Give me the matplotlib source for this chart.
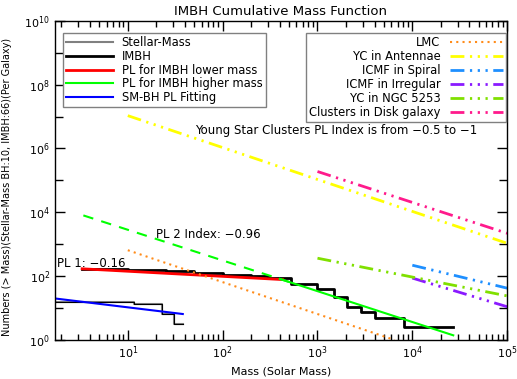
import numpy as np
import matplotlib.pyplot as plt
from matplotlib.ticker import LogLocator, NullFormatter, FixedLocator

# step functions (cumulative counts)
stellar_mass = [1.7, 11.5, 23, 31, 38]
stellar_n = [16, 13, 6.5, 3.2, 3.2]

imbh_mass = [3.3, 10, 25, 50, 100, 200, 300, 520, 1000, 1480, 2050, 2900, 4000, 8100, 27000]
imbh_n = [165, 155, 140, 125, 110, 100, 88, 56, 39, 22, 10.7, 7.5, 4.9, 2.6, 2.6]

# power-law fits (end points)
pl1_mass = [3.3, 430]
pl1_n = [170, 78]
pl2_dash_mass = [3.4, 500]
pl2_dash_n = [8000, 66]
pl2_mass = [400, 27000]
pl2_n = [82, 1.4]
smbh_mass = [1.7, 38]
smbh_n = [20, 6.5]

# young star cluster mass functions (end points)
lmc_mass = [10, 6500]
lmc_n = [650, 1.0]
antennae_mass = [10, 1e5]
antennae_n = [1.07e7, 1070]
spiral_mass = [1e4, 1e5]
spiral_n = [220, 42]
irregular_mass = [1e4, 1e5]
irregular_n = [87, 11]
ngc5253_mass = [1e3, 1e5]
ngc5253_n = [365, 24]
disk_mass = [1e3, 1e5]
disk_n = [1.9e5, 2200]

x_ticks = [1e1, 1e2, 1e3, 1e4, 1e5]
y_ticks = [1e0, 1e2, 1e4, 1e6, 1e8, 1e10]
y_minor = [1e1, 1e3, 1e5, 1e7, 1e9]

dddash = (0, (5, 2, 0.8, 2, 0.8, 2, 0.8, 2))

fig = plt.figure(figsize=(5.17, 3.79), dpi=100)
ax = fig.add_axes([0.106, 0.103, 0.875, 0.842])

l_sm, = ax.step(stellar_mass, stellar_n, where='post', color='gray', lw=1.5)
ax.step(stellar_mass, stellar_n, where='post', color='black', lw=0.8)
l_imbh, = ax.step(imbh_mass, imbh_n, where='post', color='black', lw=2)
l_pl1, = ax.plot(pl1_mass, pl1_n, color='red', lw=2)
ax.plot(pl2_dash_mass, pl2_dash_n, color='#00ff00', lw=1.5, ls=(0, (5, 4)))
l_pl2, = ax.plot(pl2_mass, pl2_n, color='#00ff00', lw=1.5)
l_smbh, = ax.plot(smbh_mass, smbh_n, color='blue', lw=1.5)

l_lmc, = ax.plot(lmc_mass, lmc_n, color='#ff8c1a', lw=1.5, ls=(0, (1, 2)))
l_ant, = ax.plot(antennae_mass, antennae_n, color='#ffff00', lw=2, ls=dddash)
l_spi, = ax.plot(spiral_mass, spiral_n, color='#1e8fff', lw=2, ls=dddash)
l_irr, = ax.plot(irregular_mass, irregular_n, color='#8a1aff', lw=2, ls=dddash)
l_ngc, = ax.plot(ngc5253_mass, ngc5253_n, color='#80e000', lw=2, ls=dddash)
l_disk, = ax.plot(disk_mass, disk_n, color='#ff1a8c', lw=2, ls=dddash)

ax.set_xscale('log')
ax.set_yscale('log')
ax.set_xlim(1.7, 1e5)
ax.set_ylim(1, 1e10)

ax.set_xticks(x_ticks)
ax.xaxis.set_minor_locator(LogLocator(base=10, subs=np.arange(2, 10), numticks=20))
ax.xaxis.set_minor_formatter(NullFormatter())
ax.set_yticks(y_ticks)
ax.yaxis.set_minor_locator(FixedLocator(y_minor))
ax.yaxis.set_minor_formatter(NullFormatter())
ax.tick_params(which='both', direction='in', top=True, right=True, labelsize=8)
ax.tick_params(which='major', length=7, width=1)
ax.tick_params(which='minor', length=4, width=1)
ax.tick_params(axis='y', which='minor', length=6)
for s in ax.spines.values():
    s.set_linewidth(1)

ax.set_title('IMBH Cumulative Mass Function', fontsize=9.5, pad=4)
ax.set_xlabel('Mass (Solar Mass)', fontsize=8)
ax.set_ylabel('Numbers (> Mass)(Stellar-Mass BH:10, IMBH:66)(Per Galaxy)', fontsize=7, labelpad=2)
ax.yaxis.set_label_coords(-0.095, 0.48)

ax.text(51, 10**6.56, 'Young Star Clusters PL Index is from \u22120.5 to \u22121', fontsize=8.5, va='center')
ax.text(20, 10**3.31, 'PL 2 Index: \u22120.96', fontsize=8.5, va='center')
ax.text(1.8, 10**2.4, 'PL 1: \u22120.16', fontsize=8.5, va='center')

leg1 = ax.legend([l_sm, l_imbh, l_pl1, l_pl2, l_smbh],
                 ['Stellar-Mass', 'IMBH', 'PL for IMBH lower mass', 'PL for IMBH higher mass', 'SM-BH PL Fitting'],
                 loc='upper left', bbox_to_anchor=(0.018, 0.962), fontsize=8.3, handlelength=4.0,
                 labelspacing=0.05, borderpad=0.3, fancybox=False, framealpha=1, edgecolor='gray',
                 borderaxespad=0)
leg1.get_frame().set_linewidth(1)
ax.add_artist(leg1)
leg2 = ax.legend([l_lmc, l_ant, l_spi, l_irr, l_ngc, l_disk],
                 ['LMC', 'YC in Antennae', 'ICMF in Spiral', 'ICMF in Irregular', 'YC in NGC 5253', 'Clusters in Disk galaxy'],
                 loc='upper right', bbox_to_anchor=(0.998, 0.962), fontsize=8.3, handlelength=4.6,
                 labelspacing=0.08, borderpad=0.3, fancybox=False, framealpha=1, edgecolor='gray',
                 markerfirst=False, borderaxespad=0)
leg2.get_frame().set_linewidth(1)
for t in leg2.get_texts():
    t.set_ha('right')

fig.savefig('out.png', dpi=100)
